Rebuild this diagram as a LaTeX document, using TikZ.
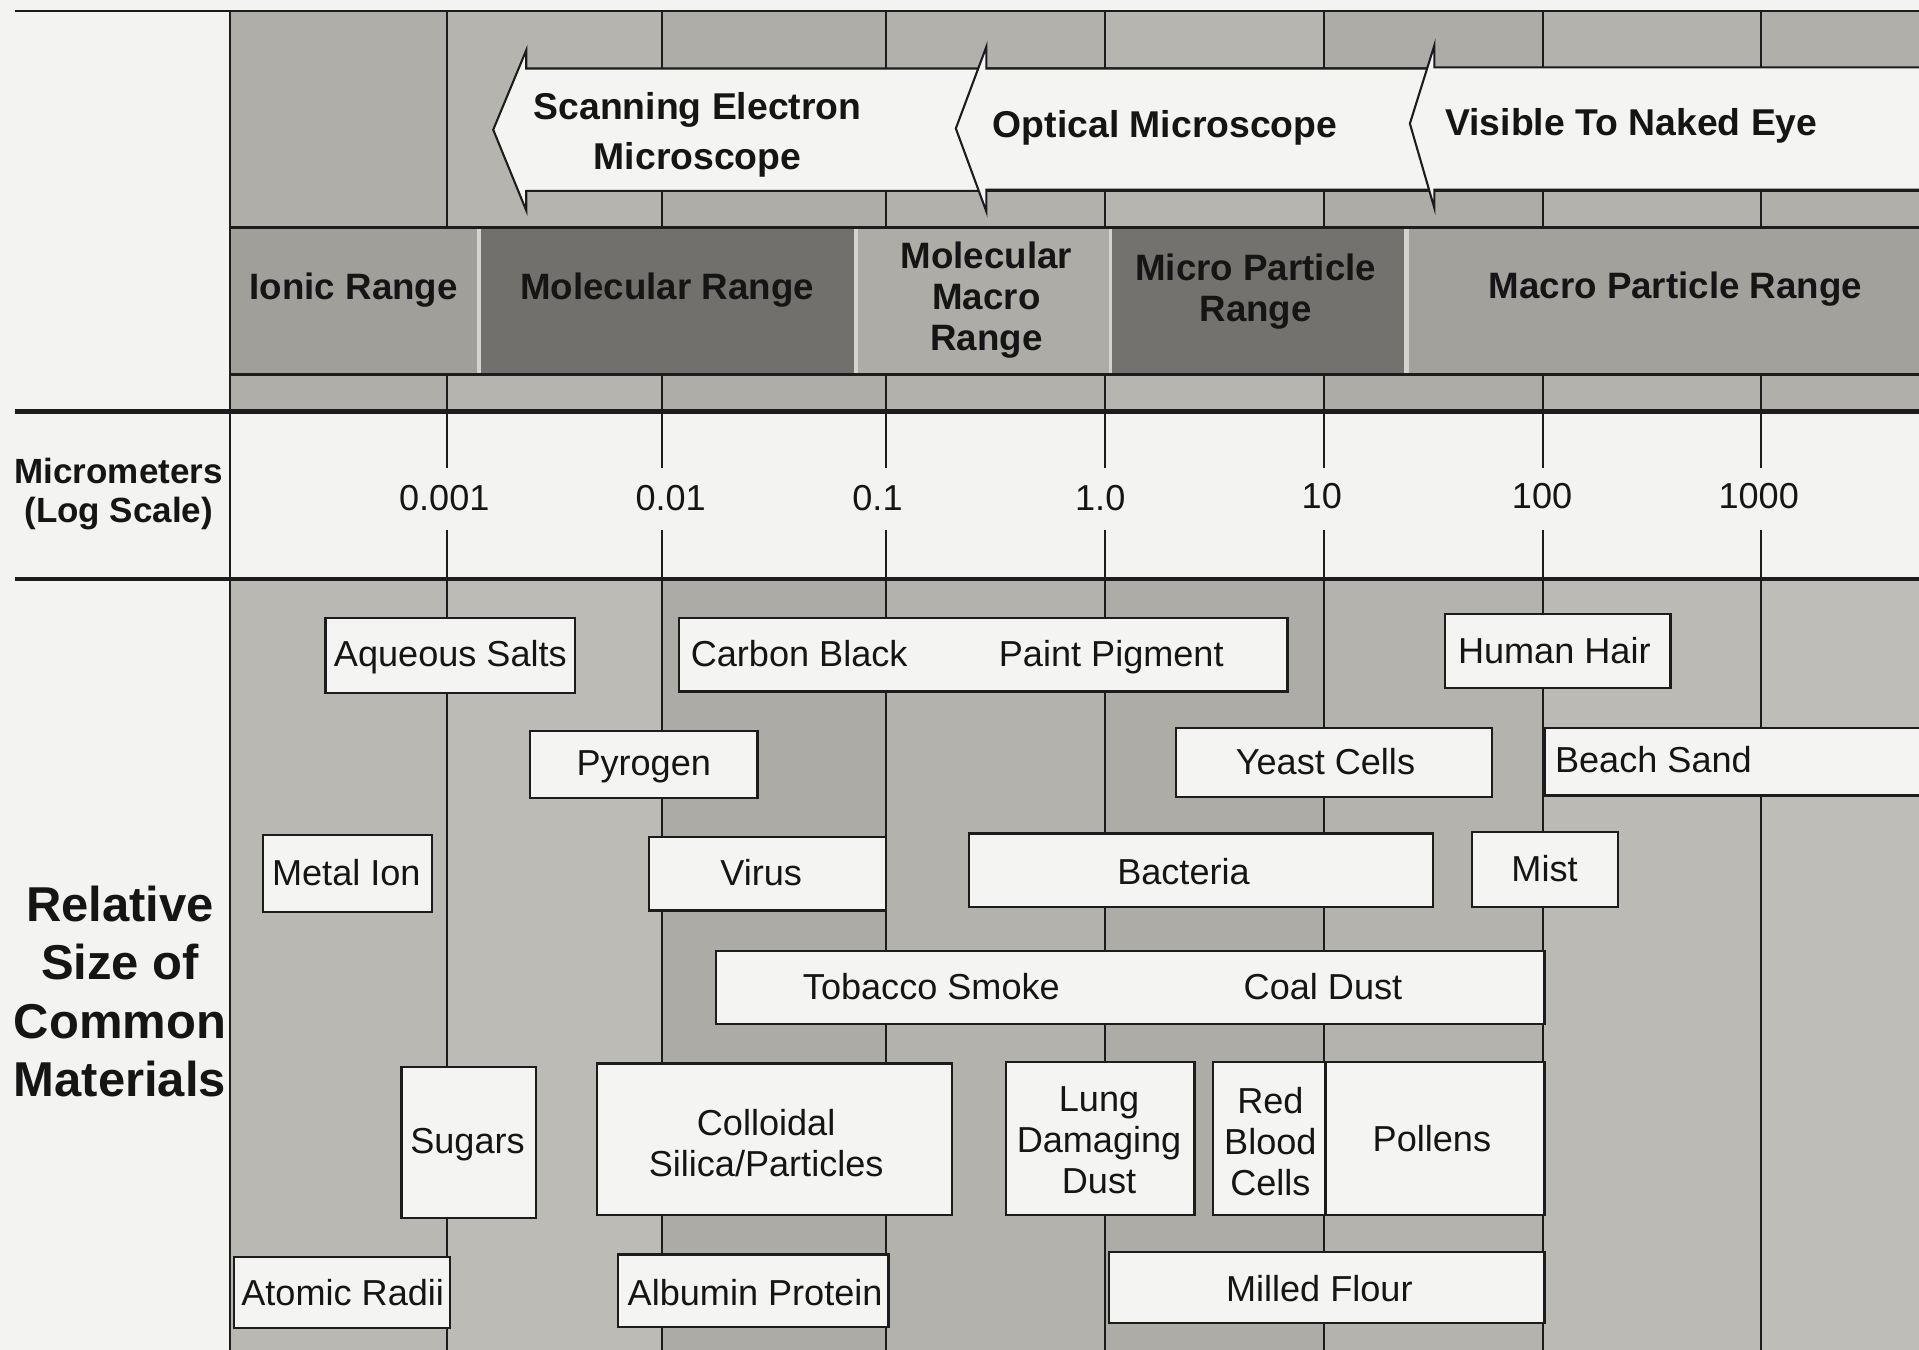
\documentclass[tikz,border=0pt]{standalone}
\usepackage{fontspec}
\setmainfont{Liberation Sans}
\definecolor{ln}{HTML}{1C1C1C}
\definecolor{txt}{HTML}{151515}
\definecolor{paper}{HTML}{F3F3F1}
\definecolor{boxw}{HTML}{F4F4F2}
\definecolor{rangebg}{HTML}{D4D3CE}
\definecolor{ionic}{HTML}{A19F99}
\definecolor{molec}{HTML}{72706C}
\definecolor{mmacro}{HTML}{AEACA6}
\definecolor{micro}{HTML}{74726E}
\definecolor{macro}{HTML}{A3A19B}
\begin{document}
\begin{tikzpicture}[x=1pt,y=-1pt,
  every node/.style={inner sep=0pt, text=txt},
  gridline/.style={line width=1.8pt, draw=ln},
  heavyrule/.style={line width=3.8pt, draw=ln},
  lightrule/.style={line width=2.2pt, draw=ln},
  matbox/.style={draw=ln, line width=1.8pt, fill=boxw, inner sep=0pt},
  reg/.style={font=\fontsize{29.5}{33.5}\selectfont, align=center},
  one/.style={reg, text height=21pt, text depth=0pt},
  hdr/.style={font=\bfseries\fontsize{30.5}{41}\selectfont, align=center},
  hdrone/.style={hdr, text height=22pt, text depth=0pt},
  rng/.style={font=\bfseries\fontsize{30}{33.5}\selectfont, align=center},
  rngone/.style={rng, text height=21.5pt, text depth=0pt},
  arrowshape/.style={draw=ln, line width=1.7pt, fill=boxw, line join=miter},
]
\useasboundingbox (0,0) rectangle (1568,1103);
\clip (0,0) rectangle (1568,1103);
% paper
\fill[paper] (0,0) rectangle (1568,1103);
% top band columns
\foreach \xa/\xb/\c in {188/365/B0AEA8,365/541/B6B4AE,541/724/AFADA7,724/903/B3B1AB,903/1082/B7B5AF,1082/1261/AEACA6,1261/1439/B4B2AC,1439/1568/B1AFA9}{
  \definecolor{tmpc}{HTML}{\c}
  \fill[tmpc] (\xa,9) rectangle (\xb,186);
  \fill[tmpc] (\xa,306) rectangle (\xb,336);
}
% range band
\fill[rangebg] (188,186) rectangle (1568,306);
\fill[ionic] (189,187) rectangle (390,305);
\fill[molec] (393,187) rectangle (698,305);
\fill[mmacro] (701,187) rectangle (906,305);
\fill[micro] (909,187) rectangle (1147,305);
\fill[macro] (1151,187) rectangle (1568,305);
% micrometer row
\fill[paper] (188,336) rectangle (1568,473);
% materials region columns
\foreach \xa/\xb/\c in {188/365/BAB8B2,365/541/BDBBB5,541/724/ADABA5,724/903/B4B2AC,903/1082/AEACA6,1082/1261/B5B3AD,1261/1439/BCBAB4,1439/1568/BFBDB7}{
  \definecolor{tmpc}{HTML}{\c}
  \fill[tmpc] (\xa,473) rectangle (\xb,1103);
}
% grid verticals
\foreach \x in {365,541,724,903,1082,1261,1439}{
  \draw[gridline] (\x,9) -- (\x,186);
  \draw[gridline] (\x,306) -- (\x,336);
  \draw[gridline] (\x,336) -- (\x,382);
  \draw[gridline] (\x,433) -- (\x,473);
  \draw[gridline] (\x,473) -- (\x,1103);
}
% horizontal rules and left border
\draw[lightrule] (12,9) -- (1568,9);
\draw[lightrule] (188,186) -- (1568,186);
\draw[lightrule] (188,306) -- (1568,306);
\draw[heavyrule] (12,336) -- (1568,336);
\draw[heavyrule] (12,473) -- (1568,473);
\draw[gridline] (188,9) -- (188,1103);

% arrows
\filldraw[arrowshape] (403,106) -- (430,41) -- (430,56) -- (1600,56) -- (1600,156) -- (430,156) -- (430,172) -- cycle;
\filldraw[arrowshape] (781,105) -- (806,38) -- (806,56) -- (1600,56) -- (1600,155) -- (806,155) -- (806,173) -- cycle;
\filldraw[arrowshape] (1152,101) -- (1172,37) -- (1172,55) -- (1600,55) -- (1600,155) -- (1172,155) -- (1172,170) -- cycle;
\node[hdr] (sem) at (570,110) {Scanning Electron\\Microscope};
\node[hdrone] (opt) at (952,101) {Optical Microscope};
\node[hdrone] (vis) at (1333,100) {Visible To Naked Eye};

% range labels
\node[rngone] (rion) at (289,234) {Ionic Range};
\node[rngone] (rmol) at (545,234) {Molecular Range};
\node[rng] (rmm) at (806,245) {Molecular\\Macro\\Range};
\node[rng] (rmic) at (1026,238) {Micro Particle\\Range};
\node[rngone] (rmac) at (1369,233) {Macro Particle Range};

% left labels
\node[font=\bfseries\fontsize{28.6}{32}\selectfont, align=center] (micl) at (97,404) {Micrometers\\(Log Scale)};
\node[font=\bfseries\fontsize{40}{47.7}\selectfont, align=center] (rell) at (98,810) {Relative\\Size of\\Common\\Materials};

% tick labels
\node[one] (t1) at (363,407) {0.001};
\node[one] (t2) at (548,407) {0.01};
\node[one] (t3) at (717,407) {0.1};
\node[one] (t4) at (899,407) {1.0};
\node[one] (t5) at (1080,405) {10};
\node[one] (t6) at (1260,405) {100};
\node[one] (t7) at (1437,405) {1000};

% material boxes
\node[matbox, minimum width=204, minimum height=61] (aq) at (368,535.5) {};
\node[one] (aqt) at (368,534) {Aqueous Salts};
\node[matbox, minimum width=497, minimum height=60] (cp) at (803.5,535) {};
\node[one] (cbt) at (653,534) {Carbon Black};
\node[one] (ppt) at (908,534) {Paint Pigment};
\node[matbox, minimum width=184, minimum height=60] (hh) at (1273,532) {};
\node[one] (hht) at (1270,532) {Human Hair};
\node[matbox, minimum width=186, minimum height=55] (py) at (526,624.5) {};
\node[one] (pyt) at (526,623) {Pyrogen};
\node[matbox, minimum width=258, minimum height=56] (ye) at (1090,623) {};
\node[one] (yet) at (1083,622) {Yeast Cells};
\node[matbox, minimum width=318, minimum height=55] (bs) at (1421,622.5) {};
\node[one] (bst) at (1351,621) {Beach Sand};
\node[matbox, minimum width=138, minimum height=63] (mi) at (284,713.5) {};
\node[one] (mit) at (283,713) {Metal Ion};
\node[matbox, minimum width=194, minimum height=60] (vi) at (627,714) {};
\node[one] (vit) at (622,713) {Virus};
\node[matbox, minimum width=379, minimum height=60] (ba) at (981.5,711) {};
\node[one] (bat) at (967,712) {Bacteria};
\node[matbox, minimum width=119, minimum height=61] (ms) at (1262.5,710.5) {};
\node[one] (mst) at (1262,710) {Mist};
\node[matbox, minimum width=677, minimum height=60] (tc) at (923.5,807) {};
\node[one] (tbt) at (761,806) {Tobacco Smoke};
\node[one] (cdt) at (1081,806) {Coal Dust};
\node[matbox, minimum width=110, minimum height=123] (su) at (383,933.5) {};
\node[one] (sut) at (382,932) {Sugars};
\node[matbox, minimum width=290, minimum height=124] (co) at (633,931) {};
\node[reg] (cot) at (626,934) {Colloidal\\Silica/Particles};
\node[matbox, minimum width=154, minimum height=125] (lu) at (899,930.5) {};
\node[reg] (lut) at (898,932) {Lung\\Damaging\\Dust};
\node[matbox, minimum width=92, minimum height=125] (rb) at (1037,930.5) {};
\node[reg] (rbt) at (1038,933) {Red\\Blood\\Cells};
\node[matbox, minimum width=179, minimum height=125] (po) at (1172.5,930.5) {};
\node[one] (pot) at (1170,930) {Pollens};
\node[matbox, minimum width=177, minimum height=58] (ar) at (279.5,1056) {};
\node[one] (art) at (280,1056) {Atomic Radii};
\node[matbox, minimum width=221, minimum height=59] (al) at (615.5,1054.5) {};
\node[one] (alt) at (617,1056) {Albumin Protein};
\node[matbox, minimum width=356, minimum height=58] (mf) at (1084,1052) {};
\node[one] (mft) at (1078,1053) {Milled Flour};
\end{tikzpicture}
\end{document}
